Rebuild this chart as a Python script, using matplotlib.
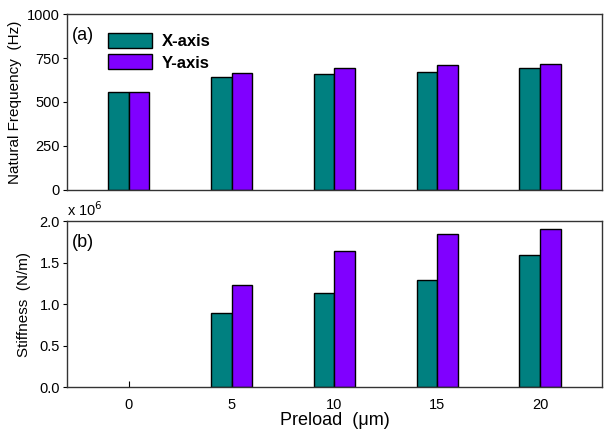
import numpy as np
import matplotlib
matplotlib.use('Agg')
from matplotlib import pyplot as plt
from matplotlib.patches import Patch

plt.rcParams['font.family'] = ['Liberation Sans', 'DejaVu Sans']

# data
preload = [0, 5, 10, 15, 20]
freq_x = [559, 640, 662, 673, 695]
freq_y = [555, 664, 695, 712, 716]
stiff_x = [0.0, 0.897, 1.137, 1.286, 1.59]   # x 10^6 N/m
stiff_y = [0.0, 1.23, 1.635, 1.846, 1.899]

TEAL = '#008080'
PURPLE = '#8000FF'
bar_w = 1.0

fig = plt.figure(figsize=(6.06, 4.29), dpi=100)
ax1 = fig.add_axes([0.1106, 0.5578, 0.8824, 0.4089])
ax2 = fig.add_axes([0.1106, 0.0972, 0.8824, 0.3876])

x = np.array(preload, dtype=float)

def draw_bars(ax, vals, offset, color):
    # zero-valued bars are not drawn at all in the original (no edge line)
    lw = [1.0 if v > 0 else 0.0 for v in vals]
    ax.bar(x + offset, vals, width=bar_w, color=color, edgecolor='black', linewidth=lw)

draw_bars(ax1, freq_x, -bar_w / 2, TEAL)
draw_bars(ax1, freq_y, bar_w / 2, PURPLE)
ax1.set_xlim(-3, 23)
ax1.set_ylim(0, 1000)
ax1.set_yticks([0, 250, 500, 750, 1000])
ax1.set_xticks([])
ax1.set_ylabel('Natural Frequency  (Hz)', fontsize=11, labelpad=4)
ax1.text(0.01, 0.93, '(a)', transform=ax1.transAxes, fontsize=13, va='top', ha='left')

handles = [Patch(facecolor=TEAL, edgecolor='black', label='X-axis'),
           Patch(facecolor=PURPLE, edgecolor='black', label='Y-axis')]
leg = ax1.legend(handles=handles, loc='upper left', bbox_to_anchor=(0.065, 0.93),
                 frameon=False, prop={'weight': 'bold', 'size': 12},
                 handlelength=2.6, handleheight=1.0, handletextpad=0.6,
                 labelspacing=0.3, borderaxespad=0.0)

draw_bars(ax2, stiff_x, -bar_w / 2, TEAL)
draw_bars(ax2, stiff_y, bar_w / 2, PURPLE)
ax2.set_xlim(-3, 23)
ax2.set_ylim(0, 2.0)
ax2.set_yticks([0.0, 0.5, 1.0, 1.5, 2.0])
ax2.set_yticklabels(['0.0', '0.5', '1.0', '1.5', '2.0'])
ax2.set_xticks(preload)
ax2.set_ylabel('Stiffness  (N/m)', fontsize=11, labelpad=6)
ax2.set_xlabel('Preload  (\u03bcm)', fontsize=13, labelpad=0)
ax2.text(0.01, 0.92, '(b)', transform=ax2.transAxes, fontsize=13, va='top', ha='left')
ax2.text(0.0, 1.01, 'x 10$^{6}$', transform=ax2.transAxes, fontsize=10.5, va='bottom', ha='left')

for ax in (ax1, ax2):
    ax.tick_params(axis='y', direction='out', length=3, labelsize=10.5, pad=2)
    ax.tick_params(axis='x', direction='in', length=4, labelsize=10.5, pad=8)
    for s in ax.spines.values():
        s.set_linewidth(1.0)
        s.set_color('#333333')

fig.savefig('out.png', dpi=100)
